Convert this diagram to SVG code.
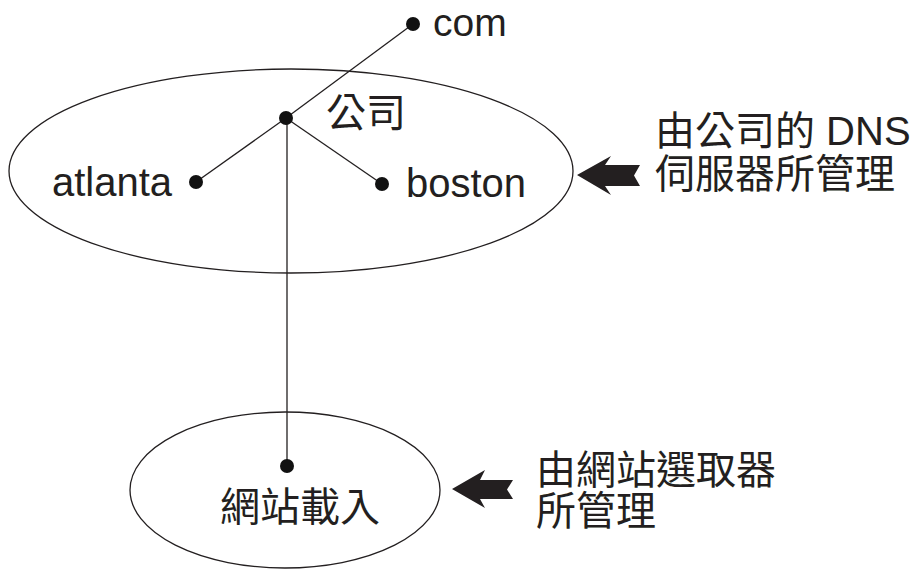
<svg xmlns="http://www.w3.org/2000/svg" width="916" height="573" viewBox="0 0 916 573">
<style>
.t{font-family:"Liberation Sans","Noto Sans CJK TC",Arial,sans-serif;font-size:40px;fill:#231f20}
.e{fill:none;stroke:#231f20;stroke-width:1.3}
.c{stroke:#231f20;stroke-width:1.3;fill:none}
.d{fill:#111}
.a{fill:#231f20}
</style>
<rect width="916" height="573" fill="#fff"/>
<g id="zone-company">
<ellipse class="e" cx="291" cy="171" rx="282" ry="102"/>
</g>
<g id="zone-site">
<ellipse class="e" cx="285" cy="490" rx="155" ry="78"/>
</g>
<g id="connectors">
<line class="c" x1="286" y1="118" x2="413" y2="24"/>
<line class="c" x1="286" y1="118" x2="196" y2="182"/>
<line class="c" x1="286" y1="118" x2="382" y2="184"/>
<line class="c" x1="287" y1="118" x2="287" y2="466"/>
</g>
<g id="node-com">
<circle class="d" cx="413" cy="24" r="7"/>
<text class="t" x="433" y="36" style="font-size:39px">com</text>
</g>
<g id="node-company">
<circle class="d" cx="286" cy="118" r="7"/>
<text class="t" x="326" y="127">公司</text>
</g>
<g id="node-atlanta">
<circle class="d" cx="196" cy="182" r="7"/>
<text class="t" x="52" y="196">atlanta</text>
</g>
<g id="node-boston">
<circle class="d" cx="382" cy="184" r="7"/>
<text class="t" x="406" y="197">boston</text>
</g>
<g id="node-site">
<circle class="d" cx="287" cy="466" r="7"/>
<text class="t" x="220" y="521">網站載入</text>
</g>
<g id="label-dns">
<path class="a" d="M577,175 L611,156 L605,165 L640,165 L634,175.5 L640,186 L605,186 L611,195 Z"/>
<text class="t" x="655" y="145">由公司的 DNS</text>
<text class="t" x="655" y="188">伺服器所管理</text>
</g>
<g id="label-selector">
<path class="a" d="M452,489 L485,470 L480,480 L513,480 L507,489.5 L513,499 L480,499 L485,508 Z"/>
<text class="t" x="536" y="484">由網站選取器</text>
<text class="t" x="536" y="525">所管理</text>
</g>
</svg>
